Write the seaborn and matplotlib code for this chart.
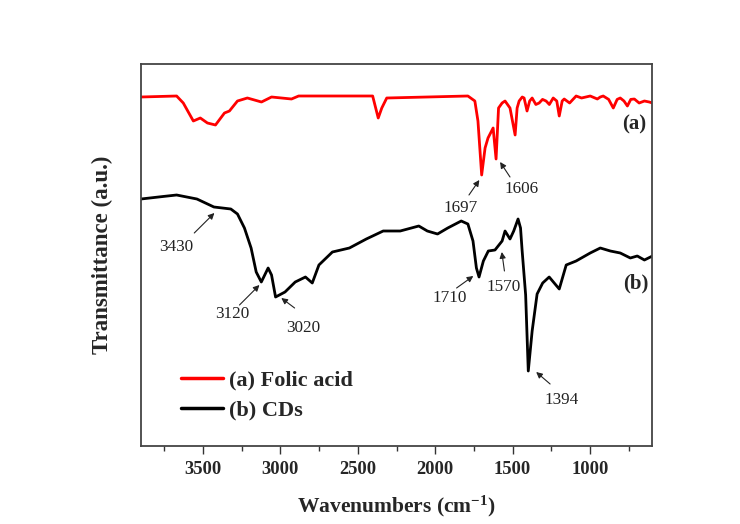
import numpy as np
import pandas as pd
import matplotlib
matplotlib.use("Agg")
import matplotlib.pyplot as plt
import seaborn as sns

# ---- data (transmittance in arbitrary units) ----
wn_folic = [3900, 3670, 3627, 3562, 3517, 3471, 3419, 3361, 3329, 3277, 3213, 3122,
            3057, 2928, 2882, 2404, 2368, 2345, 2313, 1789, 1744, 1724, 1700, 1678,
            1659, 1626, 1607, 1591, 1568, 1549, 1517, 1484, 1471, 1458, 1438, 1426,
            1407, 1390, 1374, 1350, 1329, 1307, 1284, 1263, 1238, 1215, 1199, 1180,
            1167, 1132, 1090, 1055, 999, 953, 934, 915, 880, 850, 825, 805, 781,
            759, 737, 714, 683, 649, 618, 597]
t_folic = [349, 350, 343, 325, 328, 323, 321, 333, 335, 345, 348, 344,
           349, 347, 350, 350, 328, 338, 348, 350, 345, 325, 271, 298,
           308, 318, 287, 338, 343, 345, 338, 311, 338, 345, 349, 348,
           335, 345, 348, 341.5, 343, 346.6, 345, 341.5, 348, 345, 330, 345,
           347, 343, 350, 348, 350, 347, 349, 350, 346.6, 338, 346.6, 348, 345,
           340, 346.6, 347, 343, 345, 344, 343]

wn_cds = [3900, 3758, 3670, 3539, 3429, 3320, 3277, 3232, 3189, 3156, 3123, 3079,
          3057, 3031, 2970, 2904, 2838, 2794, 2751, 2664, 2554, 2445, 2336, 2226,
          2106, 2051, 1985, 1919, 1832, 1789, 1756, 1734, 1717, 1689, 1657, 1614,
          1568, 1549, 1517, 1493, 1465, 1449, 1439, 1416, 1399, 1374, 1342, 1306,
          1264, 1199, 1154, 1090, 999, 934, 869, 805, 740, 695, 649, 597]
t_cds = [247, 249.5, 251, 247, 239, 237, 232, 218, 198, 174, 164, 178,
         171, 149, 154, 164, 169, 163, 181, 194, 198, 207, 215, 215,
         220, 215, 212, 218, 225, 222, 205, 178, 169, 185, 195, 196,
         205, 215, 207, 215, 227, 218, 196, 151, 75, 115, 152, 163,
         169, 157, 181, 185, 193, 198, 195, 193, 188, 190, 186, 190]

series_names = ["(a) Folic acid", "(b) CDs"]
series_colors = ["#ff0000", "#000000"]

# peak annotations: label, arrow tip, arrow tail, text centre (wavenumber, T)
peak_labels = ["1697", "1606", "3430", "3120", "3020", "1710", "1570", "1394"]
peak_tip_wn = [1715, 1581, 3426, 3135, 2994, 1754, 1570, 1348]
peak_tip_t = [266, 284, 233, 161, 148, 170, 194, 74]
peak_tail_wn = [1782, 1517, 3556, 3264, 2908, 1862, 1553, 1258]
peak_tail_t = [251, 269, 213, 141, 138, 158, 175, 62]
peak_txt_wn = [1833, 1441, 3674, 3308, 2855, 1905, 1559, 1186]
peak_txt_t = [238, 257, 199, 132, 118, 148, 159, 46]

xticks = [3500, 3000, 2500, 2000, 1500, 1000]

# ---- build table ----
df = pd.concat([
    pd.DataFrame({"wn": wn_folic, "T": t_folic, "sample": series_names[0]}),
    pd.DataFrame({"wn": wn_cds, "T": t_cds, "sample": series_names[1]}),
], ignore_index=True)

sns.set_theme(style="white")
plt.rcParams["font.family"] = ["Liberation Serif", "DejaVu Serif"]
plt.rcParams["mathtext.fontset"] = "custom"
plt.rcParams["mathtext.rm"] = "Liberation Serif:bold"
plt.rcParams["mathtext.it"] = "Liberation Serif:bold"
plt.rcParams["mathtext.bf"] = "Liberation Serif:bold"

fig = plt.figure(figsize=(7.4, 5.24), dpi=100)
ax = fig.add_axes([141 / 740, 1 - 446 / 524, (652 - 141) / 740, (446 - 64) / 524])

sns.lineplot(data=df, x="wn", y="T", hue="sample", palette=series_colors,
             hue_order=series_names, ax=ax, linewidth=2.0, estimator=None)

ax.set_xlim(3900, 600)
ax.set_ylim(0, 382)
ax.set_xticks(xticks)
ax.set_xticklabels([str(v) for v in xticks], fontweight="bold", fontsize=13.3)
ax.set_xticks([3750, 3250, 2750, 2250, 1750, 1250, 750], minor=True)
ax.tick_params(axis="x", which="major", direction="out", length=6, width=1.0,
               color="#333333", bottom=True, top=False, pad=5)
ax.tick_params(axis="x", which="minor", direction="out", length=3.5, width=1.0,
               color="#333333", bottom=True, top=False)
ax.set_yticks([])
for s in ax.spines.values():
    s.set_color("#444444")
    s.set_linewidth(1.3)

ax.set_xlabel(r"Wavenumbers (cm$^{-1}$)", fontsize=15.5, fontweight="bold", labelpad=11)
ax.set_ylabel("Transmittance (a.u.)", fontsize=16.5, fontweight="bold", labelpad=20)

for lab, tx, ty, sx, sy, px, py in zip(peak_labels, peak_tip_wn, peak_tip_t,
                                       peak_tail_wn, peak_tail_t, peak_txt_wn, peak_txt_t):
    ax.annotate("", xy=(tx, ty), xytext=(sx, sy),
                arrowprops=dict(arrowstyle="-|>", color="#222222", lw=0.8,
                                mutation_scale=9, shrinkA=0, shrinkB=0))
    ax.text(px, py, lab, ha="center", va="center", fontsize=12.3, color="#222222")

ax.text(715, 322, "(a)", fontsize=15, fontweight="bold", ha="center", va="center")
ax.text(706, 163, "(b)", fontsize=15, fontweight="bold", ha="center", va="center")

leg = ax.legend(loc="center left", bbox_to_anchor=(0.078, 0.133), frameon=False,
                borderpad=0, borderaxespad=0, handlelength=1.9, handletextpad=0.25,
                labelspacing=0.42, prop={"family": "Liberation Serif", "weight": "bold", "size": 16})
for line in leg.get_lines():
    line.set_linewidth(2.5)

fig.savefig("out.png", dpi=100)
